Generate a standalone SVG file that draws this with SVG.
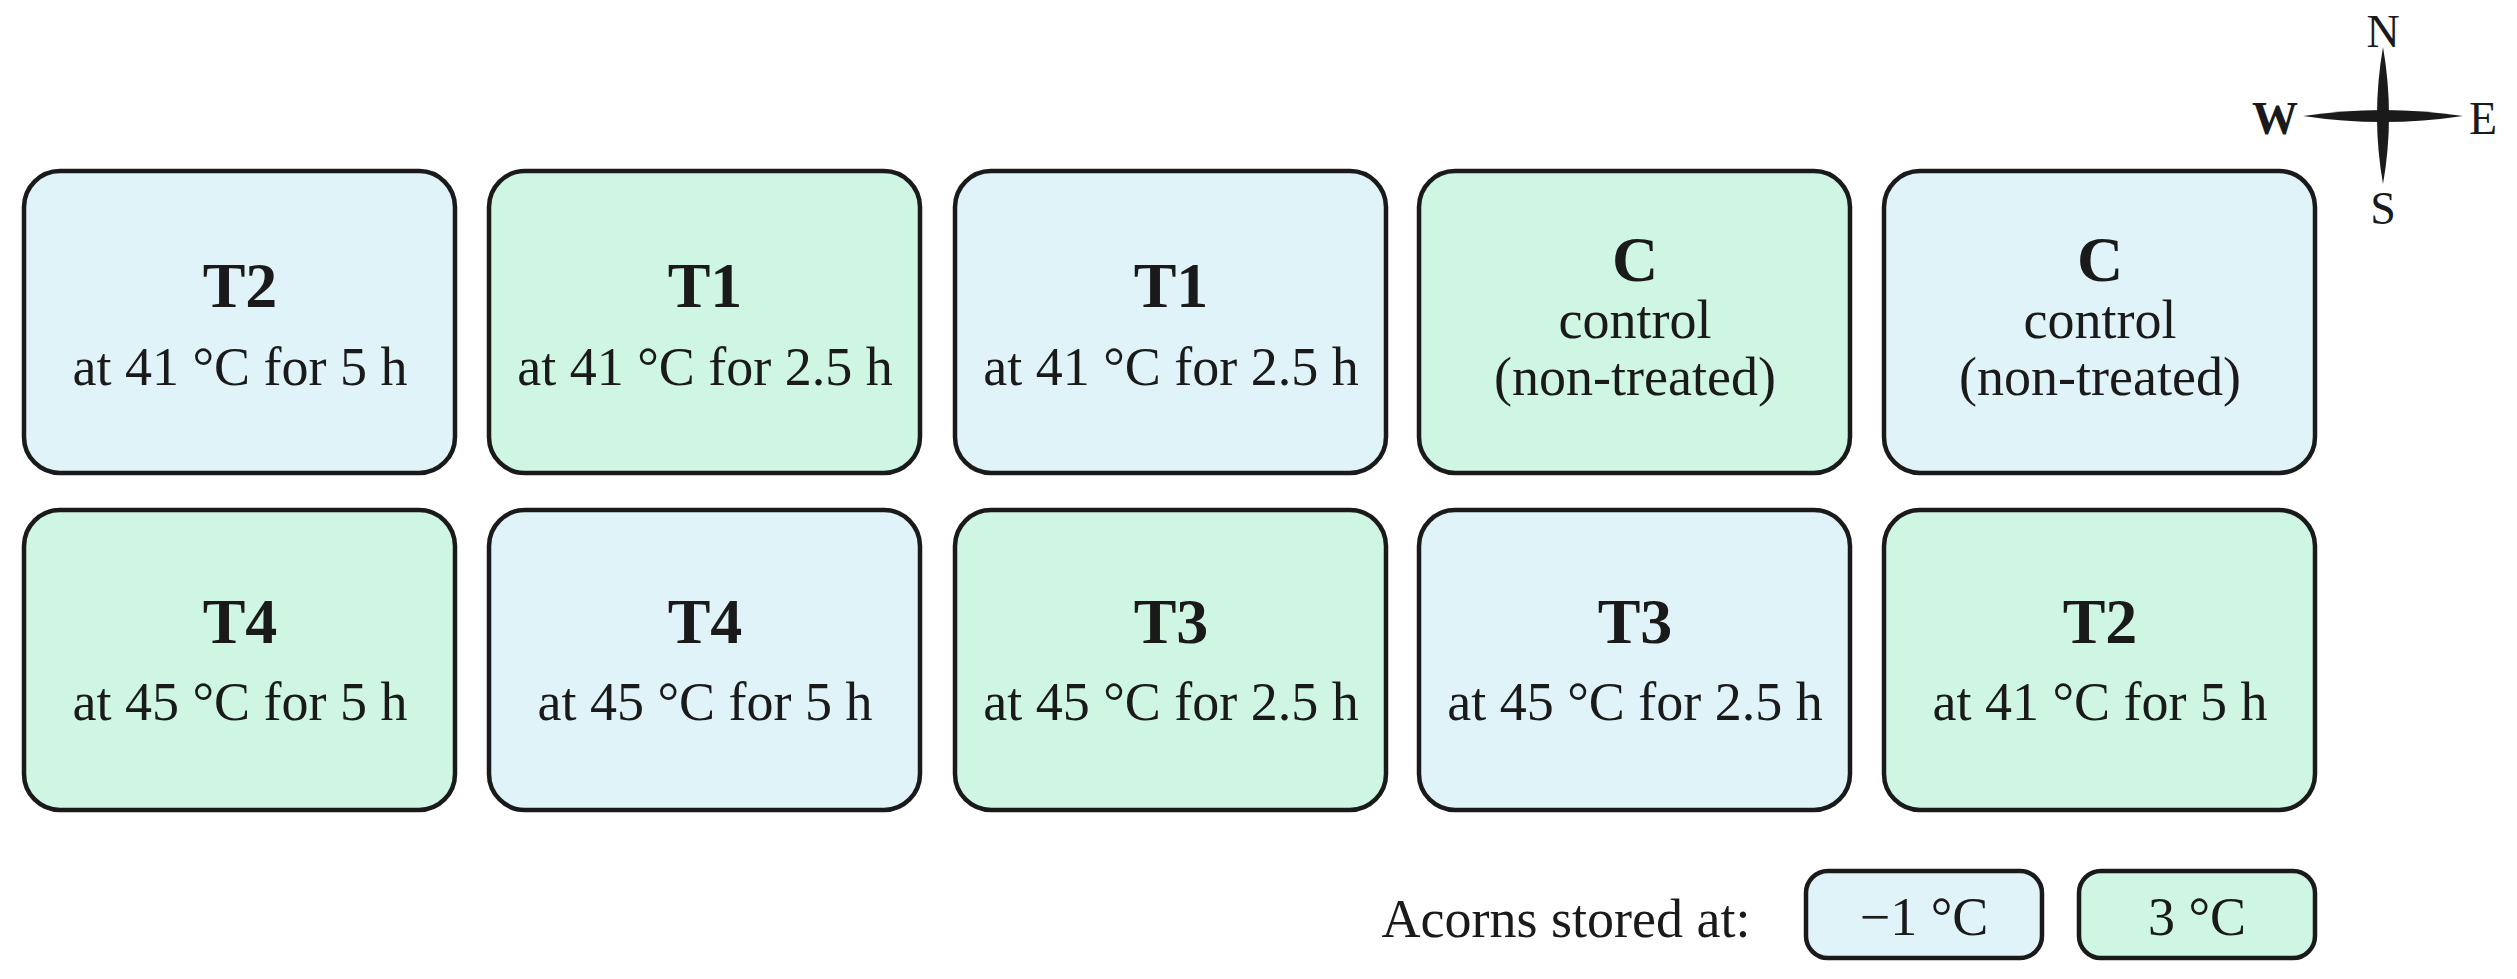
<svg xmlns="http://www.w3.org/2000/svg" width="2517" height="979" viewBox="0 0 2517 979">
<style>
.b{stroke:#1a1a1a;stroke-width:4.5}
.blue{fill:#e0f3f9}.green{fill:#cff5e3}
text{font-family:"Liberation Serif","DejaVu Serif",serif;fill:#1a1a1a;text-anchor:middle}
.t{font-size:64px;font-weight:bold}
.s{font-size:54px}
.c{font-size:46px}
</style>
<rect width="2517" height="979" fill="#fff"/>
<g id="compass">
<path d="M2303,116 Q2383,104 2463,116 Q2383,128 2303,116Z" fill="#1a1a1a"/>
<path d="M2383,47 Q2371,116 2383,184 Q2395,116 2383,47Z" fill="#1a1a1a"/>
<text class="c" x="2383" y="47">N</text>
<text class="c" x="2275" y="134" font-weight="bold">W</text>
<text class="c" x="2483" y="134">E</text>
<text class="c" x="2383" y="224">S</text>
</g>
<g id="n1"><rect class="b blue" x="24" y="171" width="431" height="302" rx="36"/><text class="t" x="240" y="307">T2</text><text class="s" x="240" y="385">at 41 °C for 5 h</text></g>
<g id="n2"><rect class="b green" x="489" y="171" width="431" height="302" rx="36"/><text class="t" x="705" y="307">T1</text><text class="s" x="705" y="385">at 41 °C for 2.5 h</text></g>
<g id="n3"><rect class="b blue" x="955" y="171" width="431" height="302" rx="36"/><text class="t" x="1171" y="307">T1</text><text class="s" x="1171" y="385">at 41 °C for 2.5 h</text></g>
<g id="n4"><rect class="b green" x="1419" y="171" width="431" height="302" rx="36"/><text class="t" x="1635" y="281">C</text><text class="s" x="1635" y="338">control</text><text class="s" x="1635" y="395">(non-treated)</text></g>
<g id="n5"><rect class="b blue" x="1884" y="171" width="431" height="302" rx="36"/><text class="t" x="2100" y="281">C</text><text class="s" x="2100" y="338">control</text><text class="s" x="2100" y="395">(non-treated)</text></g>
<g id="n6"><rect class="b green" x="24" y="510" width="431" height="300" rx="36"/><text class="t" x="240" y="643">T4</text><text class="s" x="240" y="720">at 45 °C for 5 h</text></g>
<g id="n7"><rect class="b blue" x="489" y="510" width="431" height="300" rx="36"/><text class="t" x="705" y="643">T4</text><text class="s" x="705" y="720">at 45 °C for 5 h</text></g>
<g id="n8"><rect class="b green" x="955" y="510" width="431" height="300" rx="36"/><text class="t" x="1171" y="643">T3</text><text class="s" x="1171" y="720">at 45 °C for 2.5 h</text></g>
<g id="n9"><rect class="b blue" x="1419" y="510" width="431" height="300" rx="36"/><text class="t" x="1635" y="643">T3</text><text class="s" x="1635" y="720">at 45 °C for 2.5 h</text></g>
<g id="n10"><rect class="b green" x="1884" y="510" width="431" height="300" rx="36"/><text class="t" x="2100" y="643">T2</text><text class="s" x="2100" y="720">at 41 °C for 5 h</text></g>
<g id="legend">
<text class="s" x="1566" y="937">Acorns stored at:</text>
<rect class="b blue" x="1806" y="871" width="236" height="87" rx="22" stroke-width="3"/><text class="s" x="1924" y="935">−1 °C</text>
<rect class="b green" x="2079" y="871" width="236" height="87" rx="22" stroke-width="3"/><text class="s" x="2197" y="935">3 °C</text>
</g>
<g id="connectors"/>
</svg>
